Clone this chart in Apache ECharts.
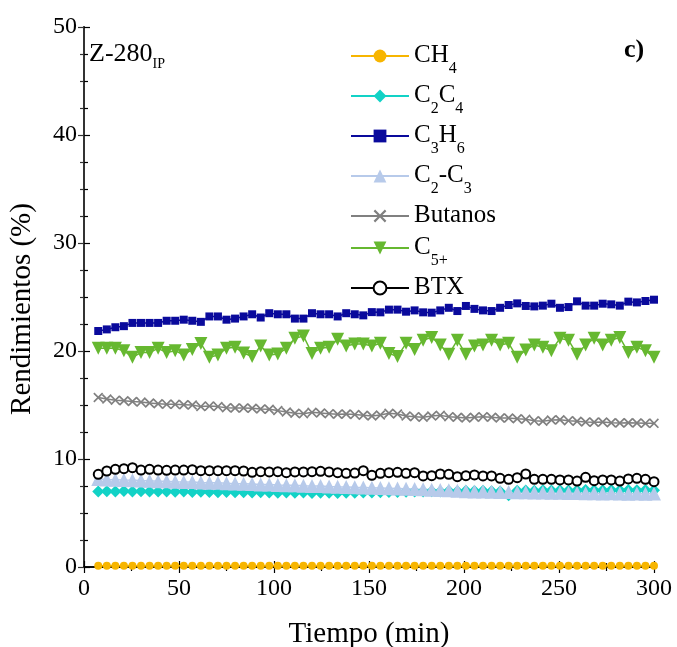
<!DOCTYPE html>
<html>
<head>
<meta charset="utf-8">
<script src="https://cdn.jsdelivr.net/npm/echarts@6/dist/echarts.min.js"></script>
<style>
  html, body { margin: 0; padding: 0; background: #fff; }
  #chart { width: 677px; height: 647px; }
</style>
</head>
<body>
<div id="chart"></div>
<script>
const SERIF = 'Liberation Serif, DejaVu Serif, serif';

// Sampling times (min)
const tiempo = [7.5, 12, 16.5, 21, 25.5, 30, 34.5, 39, 43.5, 48, 52.5, 57, 61.5, 66, 70.5, 75,
  79.5, 84, 88.5, 93, 97.5, 102, 106.5, 111, 115.5, 120, 124.5, 129, 133.5, 138, 142.5, 147,
  151.5, 156, 160.5, 165, 169.5, 174, 178.5, 183, 187.5, 192, 196.5, 201, 205.5, 210, 214.5,
  219, 223.5, 228, 232.5, 237, 241.5, 246, 250.5, 255, 259.5, 264, 268.5, 273, 277.5, 282,
  286.5, 291, 295.5, 300];

// Yields (%)
const ch4 = [0.12, 0.12, 0.11, 0.12, 0.12, 0.11, 0.12, 0.12, 0.12, 0.11, 0.12, 0.12, 0.12, 0.11,
  0.12, 0.12, 0.12, 0.11, 0.12, 0.12, 0.12, 0.11, 0.12, 0.12, 0.12, 0.11, 0.12, 0.12, 0.12, 0.11,
  0.12, 0.12, 0.12, 0.11, 0.12, 0.12, 0.12, 0.11, 0.12, 0.12, 0.12, 0.11, 0.12, 0.12, 0.12, 0.11,
  0.12, 0.12, 0.12, 0.11, 0.12, 0.12, 0.12, 0.11, 0.12, 0.12, 0.12, 0.11, 0.12, 0.12, 0.12, 0.11,
  0.12, 0.12, 0.12, 0.12];

const c2c4 = [7.0, 7.02, 7.0, 7.03, 7.0, 7.02, 7.0, 6.98, 7.0, 6.97, 6.98,
  6.95, 6.97, 6.95, 6.93, 6.95, 6.92, 6.93, 6.9, 6.92, 6.9, 6.88, 6.9, 6.87, 6.9, 6.85, 6.88,
  6.87, 6.85, 6.88, 6.87,
  6.9, 6.9, 6.92, 6.95, 6.95, 6.97, 7.0, 7.0, 7.02, 7.0, 7.03, 7.02, 7.05, 7.03, 7.05, 7.02, 7.0,
  6.65,
  7.05, 7.08, 7.05, 7.1, 7.08, 7.1, 7.08, 7.1, 7.12, 7.1, 7.1, 7.12, 7.1, 7.12, 7.1, 7.12, 7.1];

const c3h6 = [21.85, 22.0, 22.2, 22.3, 22.6, 22.6, 22.6, 22.6, 22.8, 22.8, 22.9, 22.8, 22.7,
  23.2, 23.2, 22.9, 23.0, 23.2, 23.4, 23.1, 23.5, 23.4, 23.4, 23.0, 23.0, 23.5, 23.4, 23.4,
  23.2, 23.5, 23.4, 23.3, 23.6,
  23.58, 23.83, 23.83, 23.64, 23.76, 23.58, 23.55, 23.76, 24.0, 23.7, 24.17, 23.9, 23.76,
  23.7, 24.0, 24.26, 24.41, 24.17, 24.13, 24.2, 24.38, 24.0, 24.07, 24.6, 24.2, 24.2, 24.38,
  24.32, 24.2, 24.57, 24.5, 24.63, 24.75];

const c2c3 = [8.15, 8.1, 8.08, 8.05, 8.03, 8.0, 7.98, 7.95, 7.93, 7.9, 7.88, 7.86, 7.82, 7.8,
  7.79, 7.75, 7.72, 7.71, 7.68, 7.65, 7.63, 7.6, 7.58, 7.56, 7.52, 7.5, 7.49, 7.45, 7.42, 7.41,
  7.38, 7.36, 7.34,
  7.32, 7.3, 7.28, 7.25, 7.22, 7.2, 7.15, 7.12, 7.1, 7.05, 7.02, 7.0, 6.98, 6.97, 6.95, 6.95,
  6.93, 6.92, 6.9, 6.9, 6.88, 6.87, 6.85, 6.85, 6.83, 6.82, 6.8, 6.82, 6.8, 6.78, 6.8, 6.78, 6.8];

const butanos = [15.7, 15.55, 15.45, 15.4, 15.33, 15.27, 15.18, 15.12, 15.06, 15.06, 15.03,
  15.0, 14.85, 14.9, 14.85, 14.75, 14.72, 14.72, 14.7, 14.63, 14.6, 14.48, 14.35, 14.23, 14.2,
  14.32, 14.26, 14.2, 14.14, 14.17, 14.11, 14.05, 13.98,
  14.07, 14.23, 14.17, 13.98, 13.92, 13.86, 13.98, 14.04, 13.92, 13.86, 13.8, 13.86, 13.92,
  13.86, 13.8, 13.8, 13.73, 13.67, 13.55, 13.49, 13.61, 13.64, 13.55, 13.49, 13.43, 13.4,
  13.43, 13.36, 13.33, 13.36, 13.33, 13.3, 13.3];

const c5plus = [20.25, 20.25, 20.25, 20.03, 19.41, 19.85, 19.85, 20.25, 19.85, 20.03, 19.63,
  20.15, 20.7, 19.41, 19.63, 20.25, 20.34, 19.81, 19.48, 20.46, 19.63, 19.72, 20.25, 21.17,
  21.39, 19.78, 20.25, 20.34, 21.08, 20.46, 20.65, 20.65, 20.46,
  20.71, 19.78, 19.48, 20.71, 20.15, 21.0, 21.26, 20.56, 19.69, 21.0, 19.69, 20.46, 20.56,
  21.0, 20.56, 20.71, 19.41, 20.09, 20.56, 20.34, 20.03, 21.17, 21.0, 19.69, 20.56, 21.17,
  20.56, 21.0, 21.26, 19.85, 20.34, 20.03, 19.41];

const btx = [8.58, 8.89, 9.04, 9.1, 9.2, 8.98, 9.04, 8.98, 8.95, 8.98, 8.98, 9.01, 8.92, 8.92,
  8.92, 8.92, 8.92, 8.89, 8.77, 8.83, 8.8, 8.83, 8.73, 8.8, 8.8, 8.83, 8.86, 8.8, 8.73, 8.67,
  8.7, 8.92, 8.49,
  8.67, 8.73, 8.77, 8.67, 8.73, 8.43, 8.46, 8.61, 8.58, 8.36, 8.46, 8.52, 8.43, 8.43, 8.21,
  8.12, 8.27, 8.61, 8.12, 8.12, 8.12, 8.06, 8.06, 7.96, 8.3, 7.99, 8.06, 8.06, 7.96, 8.15,
  8.21, 8.12, 7.9];

const xTicks = { min: 0, max: 300, interval: 50 };
const yTicks = { min: 0, max: 50, interval: 10 };

// Legend labels with chemical subscripts
const legendRich = {
  'CH4': '{n|CH}{s|4}',
  'C2C4': '{n|C}{s|2}{n|C}{s|4}',
  'C3H6': '{n|C}{s|3}{n|H}{s|6}',
  'C2-C3': '{n|C}{s|2}{n|-C}{s|3}',
  'Butanos': '{n|Butanos}{s| }',
  'C5+': '{n|C}{s|5+}',
  'BTX': '{n|BTX}{s| }'
};

const CROSS = 'path://M0,1.2 L1.2,0 L5,3.8 L8.8,0 L10,1.2 L6.2,5 L10,8.8 L8.8,10 L5,6.2 L1.2,10 L0,8.8 L3.8,5 Z';

const pairs = ys => tiempo.map((t, i) => [t, ys[i]]);

function lineSeries(name, ys, color, symbol, size, extra) {
  return Object.assign({
    name: name,
    type: 'line',
    data: pairs(ys),
    xAxisIndex: 0,
    yAxisIndex: 0,
    symbol: symbol,
    symbolSize: size,
    showAllSymbol: true,
    color: color,
    itemStyle: { color: color },
    lineStyle: { color: color, width: 1.5 },
    animation: false,
    emphasis: { disabled: true }
  }, extra || {});
}

const legendText = {
  fontFamily: SERIF,
  color: '#000',
  rich: {
    n: { fontFamily: SERIF, fontSize: 25, lineHeight: 30, padding: [2, 0, 0, 0], verticalAlign: 'top', color: '#000' },
    s: { fontFamily: SERIF, fontSize: 16, lineHeight: 16, padding: [20, 0, 0, 0], verticalAlign: 'top', color: '#000' }
  }
};

const axisLine = { show: true, lineStyle: { color: '#000', width: 1.5 } };
const labelStyle = { fontFamily: SERIF, fontSize: 24, color: '#000' };

const option = {
  backgroundColor: '#fff',
  animation: false,
  textStyle: { fontFamily: SERIF, color: '#000' },
  grid: { left: 84, right: 23, top: 27, bottom: 80, containLabel: false, outerBoundsMode: 'none' },
  xAxis: [
    {
      type: 'value', position: 'bottom', min: xTicks.min, max: xTicks.max, interval: xTicks.interval,
      name: 'Tiempo (min)', nameLocation: 'middle', nameGap: 53,
      nameTextStyle: { fontFamily: SERIF, fontSize: 29, color: '#000' },
      axisLine: axisLine,
      axisTick: { show: true, inside: true, length: 6, lineStyle: { color: '#000', width: 1.2 } },
      minorTick: { show: true, splitNumber: 2, length: 4, lineStyle: { color: '#000', width: 1.2 } },
      axisLabel: Object.assign({ margin: 10 }, labelStyle),
      splitLine: { show: false }
    },
    {
      type: 'value', position: 'top', min: xTicks.min, max: xTicks.max, interval: xTicks.interval,
      axisLine: axisLine,
      axisTick: { show: true, inside: true, length: 6, lineStyle: { color: '#000', width: 1.2 } },
      minorTick: { show: true, splitNumber: 2, length: 4, lineStyle: { color: '#000', width: 1.2 } },
      axisLabel: { show: false },
      splitLine: { show: false }
    }
  ],
  yAxis: [
    {
      type: 'value', position: 'left', min: yTicks.min, max: yTicks.max, interval: yTicks.interval,
      name: 'Rendimientos (%)', nameLocation: 'middle', nameGap: 47, nameRotate: 90,
      nameTextStyle: { fontFamily: SERIF, fontSize: 29, color: '#000', padding: [0, 24, 0, 0] },
      axisLine: axisLine,
      axisTick: { show: true, inside: true, length: 6, lineStyle: { color: '#000', width: 1.2 } },
      minorTick: { show: true, splitNumber: 4, length: 4, lineStyle: { color: '#000', width: 1.2 } },
      axisLabel: Object.assign({ margin: 7 }, labelStyle),
      splitLine: { show: false }
    },
    {
      type: 'value', position: 'right', min: yTicks.min, max: yTicks.max, interval: yTicks.interval,
      axisLine: { show: true, lineStyle: { color: '#333', width: 2 } },
      axisTick: { show: true, inside: true, length: 6, lineStyle: { color: '#333', width: 1.2 } },
      minorTick: { show: true, splitNumber: 4, length: 4, lineStyle: { color: '#333', width: 1.2 } },
      axisLabel: { show: false },
      splitLine: { show: false }
    }
  ],
  legend: [
    {
      orient: 'vertical', left: 350, top: 41, padding: 0, itemGap: 4,
      itemWidth: 58, itemHeight: 16,
      data: ['CH4', 'C2C4', 'C3H6', 'C2-C3', 'Butanos'],
      formatter: name => legendRich[name],
      textStyle: legendText,
      selectedMode: false
    },
    {
      orient: 'vertical', left: 350, top: 233, padding: 0, itemGap: 4,
      itemWidth: 58, itemHeight: 16,
      data: ['C5+', 'BTX'],
      formatter: name => legendRich[name],
      textStyle: legendText,
      selectedMode: false
    }
  ],
  graphic: [
    {
      type: 'text', x: 89, y: 41, silent: true,
      style: {
        text: '{a|Z-280}{b|IP}',
        rich: {
          a: { fontFamily: SERIF, fontSize: 26, lineHeight: 30, verticalAlign: 'top', fill: '#000' },
          b: { fontFamily: SERIF, fontSize: 14, lineHeight: 14, padding: [16, 0, 0, 0], verticalAlign: 'top', fill: '#000' }
        }
      }
    },
    {
      type: 'text', x: 624, y: 37, silent: true,
      style: { text: 'c)', font: 'bold 26px ' + SERIF, fill: '#000' }
    }
  ],
  series: [
    lineSeries('CH4', ch4, '#F7B500', 'circle', 8),
    lineSeries('C2C4', c2c4, '#12D2C6', 'diamond', 12),
    lineSeries('C3H6', c3h6, '#0A0A9C', 'rect', 8),
    lineSeries('C2-C3', c2c3, '#B7CAEA', 'triangle', 14),
    lineSeries('Butanos', butanos, '#808080', CROSS, 10),
    lineSeries('C5+', c5plus, '#66B830', 'triangle', 13, { symbolRotate: 180 }),
    lineSeries('BTX', btx, '#000000', 'emptyCircle', 9, { itemStyle: { color: '#000', borderWidth: 1.5 } })
  ]
};

const chart = echarts.init(document.getElementById('chart'), null, { renderer: 'canvas' });
chart.setOption(option);
</script>
</body>
</html>
